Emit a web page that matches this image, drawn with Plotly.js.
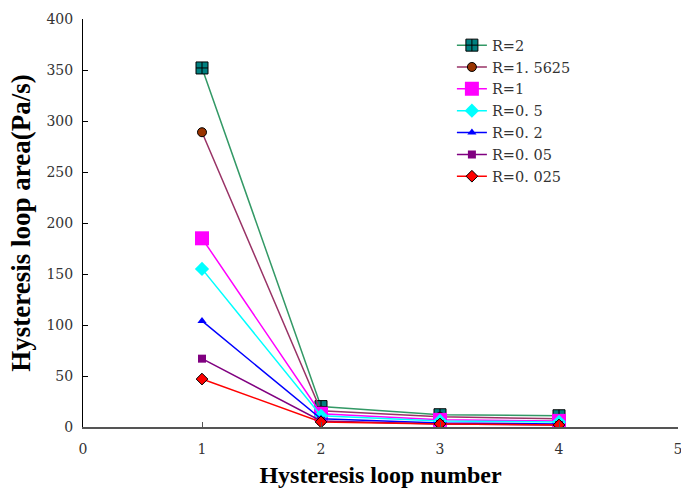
<!DOCTYPE html>
<html><head><meta charset="utf-8">
<script src="https://cdn.plot.ly/plotly-3.0.1.min.js"></script>
<style>html,body{margin:0;padding:0;background:#fff}#c{width:681px;height:488px}</style>
</head><body><div id="c"></div>
<script>
const loops = [1, 2, 3, 4];
const names = ["R=2", "R=1. 5625", "R=1", "R=0. 5", "R=0. 2", "R=0. 05", "R=0. 025"];
const r2 = [352, 20, 12, 11];
const r15625 = [289, 16, 10, 8];
const r1 = [185, 13, 7, 6];
const r05 = [155, 11, 6, 5];
const r02 = [104, 8, 4, 3];
const r005 = [67, 6, 3, 2];
const r0025 = [47, 5, 3, 2];

const series = [r2, r15625, r1, r05, r02, r005, r0025];
const styles = [
  {lc: "#339966", mc: "#008080", sym: "square-cross", size: 12, ol: "#000", ow: 1},
  {lc: "#993366", mc: "#993300", sym: "circle", size: 9, ol: "#000", ow: 1},
  {lc: "#FF00FF", mc: "#FF00FF", sym: "square", size: 14, ol: "#FF00FF", ow: 0},
  {lc: "#00FFFF", mc: "#00FFFF", sym: "diamond", size: 11, ol: "#00FFFF", ow: 0},
  {lc: "#0000FF", mc: "#0000FF", sym: "triangle-up", size: 8, ol: "#0000FF", ow: 0},
  {lc: "#800080", mc: "#800080", sym: "square", size: 8, ol: "#800080", ow: 0},
  {lc: "#FF0000", mc: "#FF0000", sym: "diamond", size: 9, ol: "#000", ow: 1}
];
const traces = series.map((v, i) => ({
  x: loops, y: v, name: names[i], type: "scatter", mode: "lines+markers",
  line: {color: styles[i].lc, width: 1.5},
  marker: {color: styles[i].mc, symbol: styles[i].sym, size: styles[i].size,
           line: {color: styles[i].ol, width: styles[i].ow}}
}));
const serif = "Liberation Serif, Times New Roman, serif";
const tickSerif = "DejaVu Serif, serif";
const layout = {
  width: 681, height: 488,
  margin: {l: 83, r: 3, t: 19, b: 61},
  paper_bgcolor: "#fff", plot_bgcolor: "#fff",
  showlegend: true,
  legend: {x: 0.62, y: 0.975, xanchor: "left", yanchor: "top",
           font: {family: tickSerif, size: 14.5, color: "#333"}, bgcolor: "rgba(0,0,0,0)",
           tracegroupgap: 0},
  xaxis: {range: [0, 5], dtick: 1, tick0: 0, showgrid: false, zeroline: false,
          showline: true, linecolor: "#555", linewidth: 1.5,
          ticks: "inside", ticklen: 5, tickcolor: "#555",
          ticklabelstandoff: 9, ticklabeloverflow: "allow",
          tickfont: {family: tickSerif, size: 14, color: "#333"},
          title: {text: "Hysteresis loop number", standoff: 10,
                  font: {family: serif, size: 24, color: "#000", weight: "bold"}}},
  yaxis: {range: [0, 400], dtick: 50, showgrid: false, zeroline: false,
          showline: true, linecolor: "#000", linewidth: 1,
          ticks: "inside", ticklen: 5, tickcolor: "#000",
          ticklabelstandoff: 6,
          tickfont: {family: tickSerif, size: 14, color: "#333"},
          title: {text: "Hysteresis loop area(Pa/s)", standoff: 8,
                  font: {family: serif, size: 27, color: "#000", weight: "bold"}}}
};
Plotly.newPlot("c", traces, layout, {displayModeBar: false, staticPlot: true});
</script></body></html>
